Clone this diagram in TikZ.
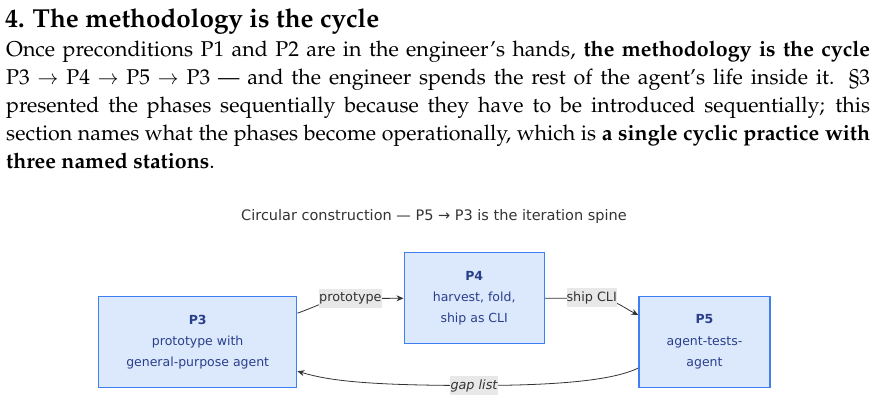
\documentclass[tikz,border=0pt]{standalone}
\usepackage[T1]{fontenc}
\usepackage{fontspec}
\usetikzlibrary{arrows.meta}
\newfontfamily\dsans{DejaVu Sans}
\newcommand\palfont{\fontencoding{T1}\fontfamily{ppl}\selectfont}
\definecolor{boxfill}{HTML}{DCE8FC}
\definecolor{boxborder}{HTML}{3F7FF0}
\definecolor{boxtext}{HTML}{2A3F8C}
\definecolor{labelbg}{HTML}{E8E8E8}
\definecolor{labeltext}{HTML}{333333}
\definecolor{edgecol}{HTML}{333333}
\pgfdeclarelayer{bg}
\pgfsetlayers{bg,main}
\tikzset{
  box/.style={draw=boxborder, fill=boxfill, line width=1.4pt, text=boxtext,
    align=center, font=\dsans\fontsize{12.5}{21.3}\selectfont, inner sep=0pt},
  elabel/.style={fill=labelbg, text=labeltext, inner sep=0pt,
    font=\dsans\fontsize{12.8}{14}\selectfont, minimum height=19pt},
  edge/.style={draw=edgecol, line width=0.8pt, -{Stealth[length=7pt,width=6pt]}},
  plain/.style={inner sep=0pt, text=black}
}
\begin{document}
\begin{tikzpicture}[x=1pt,y=-1pt]
\useasboundingbox (0,0) rectangle (876,403);
% heading and body text
\node[plain, anchor=base west] (head) at (5,28)
  {\palfont\fontsize{26}{28}\selectfont\bfseries 4. The methodology is the cycle};
\node[plain, anchor=base west] (body) at (6,57)
  {\parbox[t]{864pt}{\palfont\fontsize{21.4}{28}\selectfont
  Once preconditions P1 and P2 are in the engineer's hands, \textbf{the methodology is the cycle}\linebreak
  P3 $\rightarrow$ P4 $\rightarrow$ P5 $\rightarrow$ P3 --- and the engineer spends the rest of the agent's life inside it. \S3\linebreak
  presented the phases sequentially because they have to be introduced sequentially; this\linebreak
  section names what the phases become operationally, which is \textbf{a single cyclic practice with\linebreak
  three named stations}.}};
% diagram title
\node[plain, text=labeltext, font=\dsans\fontsize{14.5}{16}\selectfont] (title) at (434,217)
  {Circular construction — P5 → P3 is the iteration spine};
% boxes
\node[box, minimum width=198pt, minimum height=91pt] (P3) at (197.7,342.2)
  {\textbf{P3}\\prototype with\\general-purpose agent};
\node[box, minimum width=140pt, minimum height=91pt] (P4) at (474.2,298.3)
  {\textbf{P4}\\harvest, fold,\\ship as CLI};
\node[box, minimum width=131pt, minimum height=90.5pt] (P5) at (704.5,342)
  {\textbf{P5}\\agent-tests-\\agent};
% edge labels
\node[elabel, minimum width=63pt] (lab1) at (350.4,298.5) {prototype};
\node[elabel, minimum width=50pt] (lab2) at (591.7,298) {ship CLI};
\node[elabel, minimum width=48pt] (lab3) at (474,385.5) {\itshape gap list};
% edges
\begin{pgfonlayer}{bg}
\draw[edge] ([yshift=29pt]P3.east) .. controls +(20,-7) and +(-22,0) .. (lab1.center) -- (P4.west);
\draw[edge] (P4.east) -- (lab2.center) .. controls +(22,0) and +(-16,-8) .. ([yshift=27pt]P5.west);
\draw[edge] ([yshift=-26pt]P5.west) .. controls +(-28,14) and +(70,0) .. (lab3.center)
  .. controls +(-110,0) and +(30,9) .. ([yshift=-29pt]P3.east);
\end{pgfonlayer}
\end{tikzpicture}
\end{document}
